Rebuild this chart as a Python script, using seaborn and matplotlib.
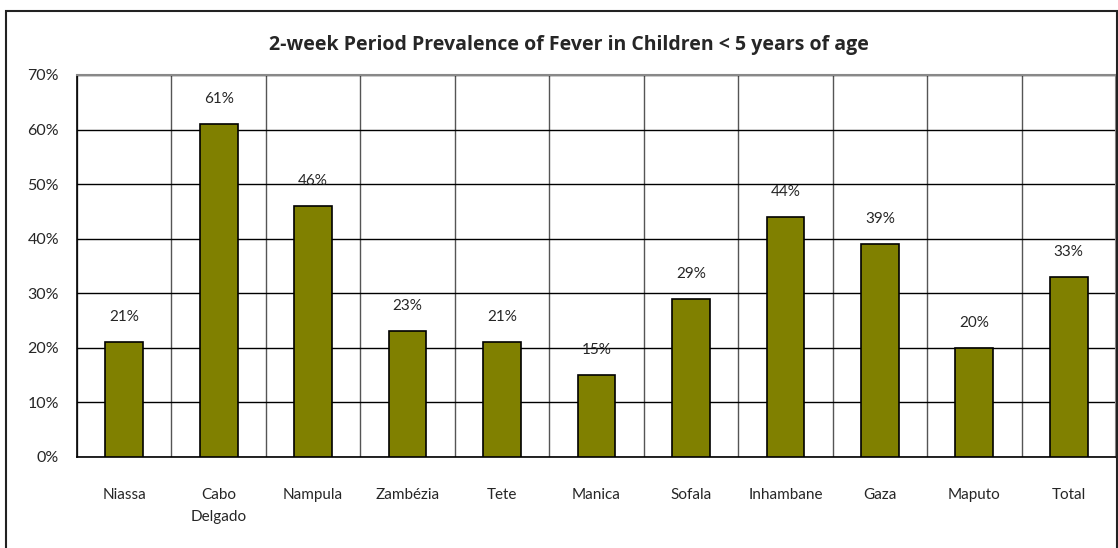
import numpy as np
import pandas as pd
import seaborn as sns
import matplotlib.pyplot as plt
from matplotlib.patches import Rectangle
from matplotlib.ticker import FuncFormatter, MultipleLocator

# Data
provinces = ['Niassa', 'Cabo\nDelgado', 'Nampula', 'Zambézia', 'Tete', 'Manica',
             'Sofala', 'Inhambane', 'Gaza', 'Maputo', 'Total']
fever_pct = [21, 61, 46, 23, 21, 15, 29, 44, 39, 20, 33]

df = pd.DataFrame({'province': provinces, 'value': fever_pct})

sns.set_style('white')
plt.rcParams['font.family'] = ['Lato', 'DejaVu Sans']

fig = plt.figure(figsize=(11.18, 5.48), dpi=100)
ax = fig.add_axes([77 / 1118, 1 - 457 / 548, (1116 - 77) / 1118, (457 - 75) / 548])

sns.barplot(data=df, x='province', y='value', color='#808000', saturation=1,
            width=0.4, edgecolor='black', linewidth=1.2, ax=ax, zorder=3)

ax.set_ylim(0, 70)
ax.set_xlim(-0.5, len(provinces) - 0.5)
ax.yaxis.set_major_locator(MultipleLocator(10))
ax.yaxis.set_major_formatter(FuncFormatter(lambda v, p: f'{v:.0f}%'))
ax.set_xlabel('')
ax.set_ylabel('')

# gridlines: horizontal at 10%, vertical at category boundaries
ax.set_xticks(np.arange(-0.5, len(provinces), 1), minor=True)
ax.grid(axis='y', which='major', color='black', linewidth=1, zorder=0)
ax.grid(axis='x', which='minor', color='#555555', linewidth=1, zorder=0)
ax.grid(axis='x', which='major', visible=False)
ax.set_axisbelow(True)

ax.tick_params(axis='x', which='major', length=0, pad=22, labelsize=11)
ax.tick_params(axis='x', which='minor', length=6, width=1, color='#444444', direction='out')
ax.tick_params(axis='y', which='major', length=6, width=1, color='black', direction='out',
               labelsize=11.5, pad=7)
for lbl in ax.get_xticklabels():
    lbl.set_linespacing(1.75)
    lbl.set_verticalalignment('top')

for side in ['left', 'bottom']:
    ax.spines[side].set_color('black')
    ax.spines[side].set_linewidth(1.2)
for side in ['top', 'right']:
    ax.spines[side].set_color('#888888')
    ax.spines[side].set_linewidth(1.5)

for i, v in enumerate(fever_pct):
    ax.annotate(f'{v}%', (i, v), xytext=(0, 13), textcoords='offset points',
                ha='center', va='bottom', fontsize=11)

fig.text(569 / 1118, 1 - 45 / 548, '2-week Period Prevalence of Fever in Children < 5 years of age',
         ha='center', va='center', fontsize=14, fontweight='bold',
         family=['Open Sans', 'DejaVu Sans'])

# outer chart border
fig.patches.append(Rectangle((6 / 1118, -0.05), (1117 - 6) / 1118, 1.05 - 11 / 548,
                             transform=fig.transFigure, fill=False, edgecolor='#222222',
                             linewidth=1.5, clip_on=False))

fig.savefig('out.png', dpi=100)
